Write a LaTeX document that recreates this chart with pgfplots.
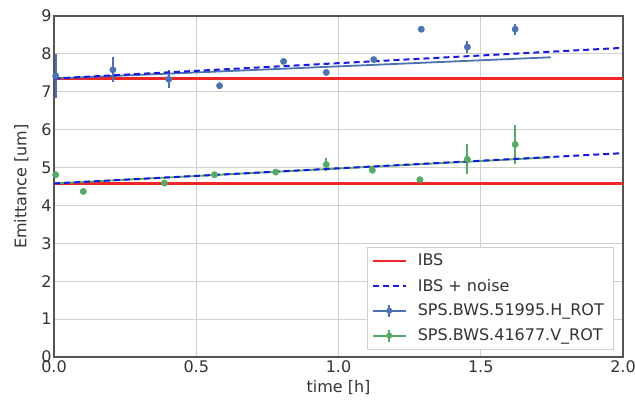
\documentclass[border=0pt]{standalone}
\usepackage{pgfplots}
\pgfplotsset{compat=1.18}
\usepackage{fontspec}
\setmainfont{DejaVu Sans}
\definecolor{sbblue}{HTML}{4C72B0}
\definecolor{sbgreen}{HTML}{55A868}
\definecolor{ibsred}{RGB}{238,40,40}
\definecolor{noiseblue}{RGB}{25,25,225}
\definecolor{textgrey}{HTML}{333333}
\definecolor{gridgrey}{HTML}{D0D0D0}
\definecolor{spine}{HTML}{555555}

\pgfplotstableread{
x y e
0.006 7.42 0.58
0.207 7.58 0.33
0.403 7.33 0.24
0.582 7.16 0.03
0.807 7.80 0.03
0.957 7.51 0.03
1.124 7.85 0.04
1.291 8.65 0.04
1.453 8.18 0.15
1.621 8.65 0.14
}\Hdata

\pgfplotstableread{
x y e
0.006 4.81 0.03
0.103 4.37 0.03
0.388 4.59 0.03
0.564 4.81 0.03
0.779 4.88 0.04
0.957 5.08 0.18
1.119 4.93 0.04
1.286 4.68 0.03
1.453 5.22 0.40
1.621 5.61 0.51
}\Vdata

\begin{document}
\begin{tikzpicture}
\begin{axis}[
  scale only axis, width=569bp, height=341bp,
  xmin=0, xmax=2, ymin=0, ymax=9,
  xtick={0,0.5,1,1.5,2}, ytick={0,1,2,3,4,5,6,7,8,9},
  xticklabel style={yshift=-0.5bp, /pgf/number format/.cd,fixed,fixed zerofill,precision=1},
  /pgf/number format/assume math mode=true,
  tick label style={font=\fontsize{16bp}{19bp}\selectfont, text=textgrey},
  yticklabel style={xshift=1bp},
  label style={font=\fontsize{16bp}{19bp}\selectfont, text=textgrey},
  xlabel={time [h]}, ylabel={Emittance [um]},
  xlabel style={yshift=-0.5bp},
  ylabel style={yshift=6bp},
  grid=major, major grid style={gridgrey, line width=0.9bp},
  axis line style={spine, line width=1.3bp},
  tick style={draw=none},
  legend cell align=left,
  legend style={at={(1,0)}, anchor=south east, xshift=-10bp, yshift=8bp,
    draw=gridgrey, fill=white, font=\fontsize{16bp}{19bp}\selectfont,
    text=textgrey, row sep=7.5bp, column sep=7bp, inner xsep=5bp, inner ysep=4.5bp,
    nodes={inner xsep=4bp}},
  legend image code/.code={\draw[#1] (0bp,0bp) -- (33bp,0bp);},
]
% legend images
\addlegendimage{legend image code/.code={\draw[ibsred, line width=2bp] (0bp,0bp) -- (33bp,0bp);}}
\addlegendentry{IBS}
\addlegendimage{legend image code/.code={\draw[noiseblue, line width=2bp, dash pattern=on 6bp off 4bp] (0bp,0bp) -- (33bp,0bp);}}
\addlegendentry{IBS + noise}
\addlegendimage{legend image code/.code={
  \draw[sbblue, line width=1.8bp] (0bp,0bp) -- (33bp,0bp);
  \draw[sbblue, line width=1.8bp] (16.5bp,-6bp) -- (16.5bp,6bp);
  \fill[sbblue] (16.5bp,0bp) circle (2.8bp);}}
\addlegendentry{SPS.BWS.51995.H\_ROT}
\addlegendimage{legend image code/.code={
  \draw[sbgreen, line width=1.8bp] (0bp,0bp) -- (33bp,0bp);
  \draw[sbgreen, line width=1.8bp] (16.5bp,-6bp) -- (16.5bp,6bp);
  \fill[sbgreen] (16.5bp,0bp) circle (2.8bp);}}
\addlegendentry{SPS.BWS.41677.V\_ROT}

% IBS
\addplot[draw=ibsred, line width=2.2bp, forget plot] coordinates {(0,7.35) (2,7.35)};
\addplot[draw=ibsred, line width=2.2bp, forget plot] coordinates {(0,4.58) (2,4.58)};

% fits
\addplot[sbblue, line width=1.8bp, forget plot] coordinates {(0,7.35) (1.746,7.91)};
\addplot[sbgreen, line width=1.8bp, forget plot] coordinates {(0,4.58) (1.746,5.27)};

% data
\addplot[only marks, mark=*, mark size=3.2bp, sbblue, mark options={draw=none, fill=sbblue},
  forget plot, error bars/.cd, y dir=both, y explicit, error mark=none,
  error bar style={line width=1.8bp, sbblue}]
  table[x=x, y=y, y error=e] {\Hdata};
\addplot[only marks, mark=*, mark size=3.2bp, sbgreen, mark options={draw=none, fill=sbgreen},
  forget plot, error bars/.cd, y dir=both, y explicit, error mark=none,
  error bar style={line width=1.8bp, sbgreen}]
  table[x=x, y=y, y error=e] {\Vdata};

% IBS + noise
\addplot[noiseblue, line width=2bp, dash pattern=on 6bp off 4bp, forget plot] coordinates {(0,7.35) (2,8.16)};
\addplot[noiseblue, line width=2bp, dash pattern=on 6bp off 4bp, forget plot] coordinates {(0,4.58) (2,5.38)};
\end{axis}
\pgfresetboundingbox
\path[use as bounding box] ([xshift=-54bp,yshift=-44bp]current axis.south west) rectangle ([xshift=12bp,yshift=16bp]current axis.north east);
\end{tikzpicture}
\end{document}
